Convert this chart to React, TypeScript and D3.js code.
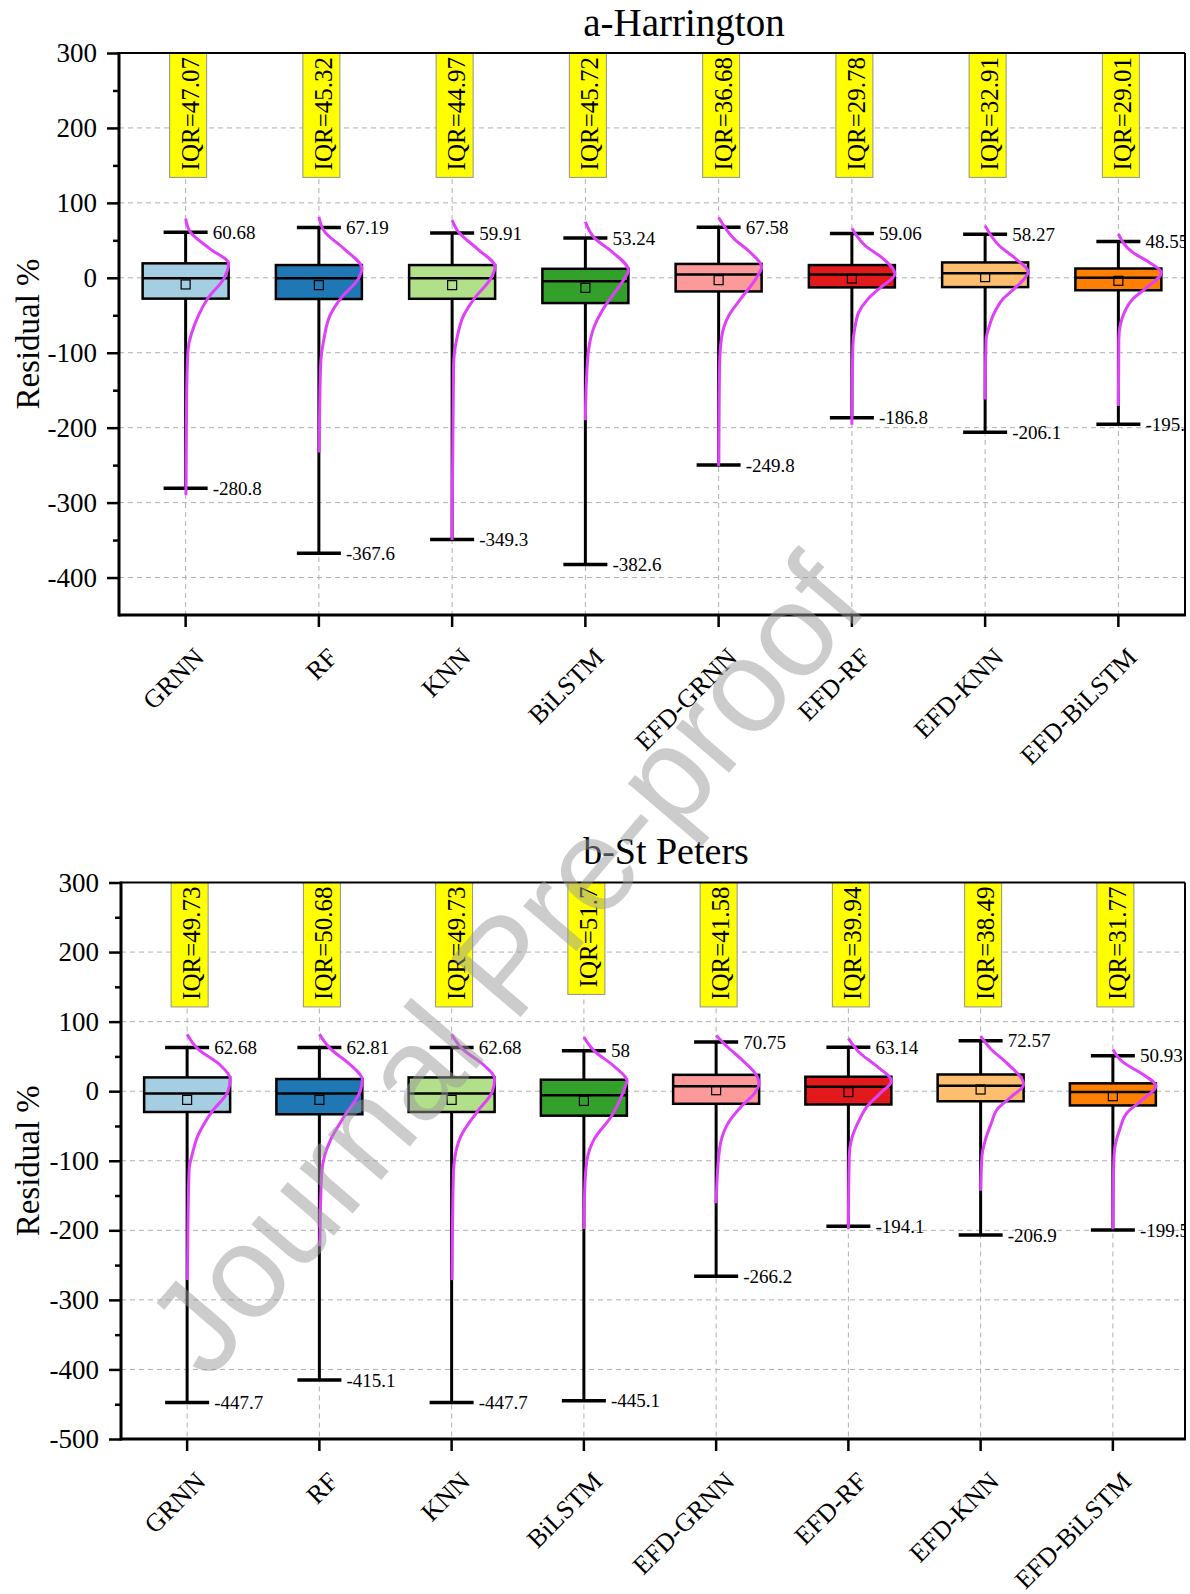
import React, { useEffect, useRef } from 'react'
import * as d3 from 'd3'

// categories and box colours
const models = ['GRNN', 'RF', 'KNN', 'BiLSTM', 'EFD-GRNN', 'EFD-RF', 'EFD-KNN', 'EFD-BiLSTM']
const boxColors = ['#a6cee3', '#1f78b4', '#b2df8a', '#33a02c', '#fb9a99', '#e31a1c', '#fdbf6f', '#ff7f00']

// a-Harrington
const harTicks = [-400, -300, -200, -100, 0, 100, 200, 300]
const harQ1 = [-27.8, -28.3, -28.0, -33.7, -18.2, -12.8, -12.4, -16.6]
const harMedian = [-0.5, -0.5, -0.5, -4.5, 4.4, 4.4, 6.2, 0]
const harQ3 = [19.3, 17.0, 17.0, 12.0, 18.5, 17.0, 20.5, 12.4]
const harMean = [-8.9, -9.8, -9.8, -13.4, -3.1, -0.9, 0.9, -4.0]
const harMax = [60.68, 67.19, 59.91, 53.24, 67.58, 59.06, 58.27, 48.55]
const harMin = [-280.8, -367.6, -349.3, -382.6, -249.8, -186.8, -206.1, -195.6]
const harIQR = ['47.07', '45.32', '44.97', '45.72', '36.68', '29.78', '32.91', '29.01']
// distribution curves: [residual, relative density]
const harDensity: [number, number][][] = [
  [[79, 0], [61, 0.11], [39, 0.56], [19, 1], [0, 0.9], [-28, 0.51], [-50, 0.3], [-72, 0.15], [-90, 0.07], [-108, 0.045], [-161, 0.023], [-290, 0.007]],
  [[81.5, 0], [61, 0.14], [39, 0.58], [12.5, 1], [0, 0.93], [-28, 0.5], [-50, 0.26], [-81, 0.12], [-117, 0.04], [-233, 0.007]],
  [[77, 0], [61, 0.15], [39, 0.58], [14.7, 1], [0, 0.91], [-28, 0.51], [-50, 0.27], [-81, 0.11], [-117, 0.033], [-350, 0]],
  [[74.8, 0], [52.6, 0.22], [34.7, 0.62], [10, 1], [-5.3, 0.86], [-36.5, 0.47], [-63, 0.22], [-94, 0.08], [-139, 0.023], [-190, 0]],
  [[80.4, 0], [52, 0.36], [34.7, 0.72], [14.7, 1], [0, 0.88], [-27.6, 0.52], [-50, 0.24], [-81, 0.065], [-116, 0.023], [-251, 0]],
  [[66, 0], [42.8, 0.31], [25, 0.74], [5, 1], [-13.8, 0.65], [-28.6, 0.37], [-46, 0.16], [-64, 0.077], [-91, 0.023], [-196, 0]],
  [[69.6, 0], [42.8, 0.33], [25, 0.72], [8, 1], [-13.8, 0.69], [-28.6, 0.41], [-46, 0.22], [-64, 0.1], [-82, 0.023], [-162.5, 0]],
  [[58.5, 0], [34, 0.33], [20.5, 0.72], [7, 1], [-13.8, 0.64], [-28.6, 0.33], [-46, 0.14], [-64, 0.04], [-82, 0.01], [-171, 0]],
]

// b-St Peters
const stpTicks = [-500, -400, -300, -200, -100, 0, 100, 200, 300]
const stpQ1 = [-29.9, -33.2, -29.9, -35.2, -18.1, -19.1, -14.5, -20.5]
const stpMedian = [-3.4, -3.4, -3.4, -5.7, 7.2, 6.3, 7.7, -1.0]
const stpQ3 = [19.8, 17.5, 19.8, 16.5, 23.5, 20.8, 24.0, 11.3]
const stpMean = [-12.5, -12.5, -12.5, -14.0, 1.4, -1.4, 2.4, -7.2]
const stpMax = [62.68, 62.81, 62.68, 58, 70.75, 63.14, 72.57, 50.93]
const stpMin = [-447.7, -415.1, -447.7, -445.1, -266.2, -194.1, -206.9, -199.5]
const stpIQR = ['49.73', '50.68', '49.73', '51.7', '41.58', '39.94', '38.49', '31.77']
const stpDensity: [number, number][][] = [
  [[82, 0], [60.8, 0.25], [38, 0.76], [18, 1], [0, 0.95], [-30, 0.57], [-64, 0.25], [-93, 0.11], [-110, 0.05], [-150, 0.03], [-271.6, 0.01]],
  [[82, 0], [60.8, 0.26], [38, 0.72], [16.5, 1], [0, 0.95], [-36, 0.58], [-70, 0.26], [-93, 0.12], [-121, 0.05], [-223, 0.01]],
  [[82, 0], [60.8, 0.25], [38, 0.74], [18, 1], [0, 0.95], [-30, 0.59], [-64, 0.22], [-93, 0.08], [-121, 0.04], [-271.6, 0.01]],
  [[78, 0], [58, 0.24], [36, 0.7], [15, 1], [0, 0.92], [-36, 0.64], [-70, 0.23], [-93, 0.09], [-127, 0.03], [-198, 0]],
  [[80.3, 0], [65, 0.24], [45.7, 0.59], [26.4, 0.9], [12, 1], [-2.4, 0.9], [-21.6, 0.59], [-45.7, 0.28], [-70, 0.12], [-94, 0.06], [-118, 0.03], [-161, 0]],
  [[76, 0], [55.3, 0.26], [36, 0.66], [14.4, 1], [-2.4, 0.75], [-21.6, 0.44], [-45.7, 0.22], [-70, 0.07], [-94, 0.02], [-198.6, 0]],
  [[79.3, 0], [60, 0.25], [41, 0.6], [9.6, 1], [-7.2, 0.73], [-26.4, 0.38], [-45.7, 0.25], [-70, 0.11], [-94, 0.03], [-143, 0]],
  [[60, 0], [41, 0.25], [26.4, 0.64], [7.2, 1], [-12, 0.69], [-31, 0.33], [-55, 0.16], [-79, 0.05], [-103, 0.02], [-198.6, 0]],
]

interface PanelSpec {
  id: string
  title: string
  titleX: number
  titleY: number
  titleSize: number
  left: number
  right: number
  bandRight: number
  top: number
  bottom: number
  yMin: number
  ticks: number[]
  q1: number[]
  median: number[]
  q3: number[]
  mean: number[]
  max: number[]
  min: number[]
  iqr: string[]
  density: [number, number][][]
}

const serif = '"Liberation Serif", "Times New Roman", serif'

function drawPanel(svg: d3.Selection<SVGSVGElement, unknown, null, undefined>, p: PanelSpec) {
  const x = d3.scaleBand<string>().domain(models).range([p.left, p.bandRight]).padding(0)
  const y = d3.scaleLinear().domain([p.yMin, 300]).range([p.bottom, p.top])
  const cx = (i: number) => (x(models[i]) ?? 0) + x.bandwidth() / 2
  const halfBox = 43
  const capHalf = 22

  const g = svg.append('g')

  const clipId = `clip-${p.id}`
  svg.append('defs').append('clipPath').attr('id', clipId)
    .append('rect')
    .attr('x', p.left).attr('y', p.top)
    .attr('width', p.right - p.left).attr('height', p.bottom - p.top)

  // grid
  g.append('g').selectAll('line').data(p.ticks).join('line')
    .attr('x1', p.left).attr('x2', p.right)
    .attr('y1', d => y(d)).attr('y2', d => y(d))
    .attr('stroke', '#b0b0b0').attr('stroke-width', 1).attr('stroke-dasharray', '5,4')
  g.append('g').selectAll('line').data(models).join('line')
    .attr('x1', (_, i) => cx(i)).attr('x2', (_, i) => cx(i))
    .attr('y1', p.top).attr('y2', p.bottom)
    .attr('stroke', '#b0b0b0').attr('stroke-width', 1).attr('stroke-dasharray', '5,4')

  // IQR labels
  const iqrRects = g.append('g').selectAll('rect').data(p.iqr).join('rect')
    .attr('x', (_, i) => cx(i) - 16).attr('y', p.top)
    .attr('width', 37).attr('height', 120)
    .attr('fill', '#ffff00').attr('stroke', '#909090').attr('stroke-width', 1)
  const iqrTexts = g.append('g').selectAll('text').data(p.iqr).join('text')
    .attr('transform', (_, i) => `translate(${cx(i) + 13},${p.top + 4}) rotate(-90)`)
    .attr('text-anchor', 'end')
    .style('font-family', serif).style('font-size', '25px').attr('fill', '#000')
    .text(d => `IQR=${d}`)
  iqrTexts.each(function (_, i) {
    const len = (this as SVGTextElement).getComputedTextLength()
    d3.select(iqrRects.nodes()[i]).attr('height', len + 11)
  })

  // whiskers
  const wg = g.append('g').attr('stroke', '#000')
  models.forEach((_, i) => {
    const c = cx(i)
    wg.append('line').attr('x1', c).attr('x2', c).attr('y1', y(p.q3[i])).attr('y2', y(p.max[i])).attr('stroke-width', 3)
    wg.append('line').attr('x1', c).attr('x2', c).attr('y1', y(p.q1[i])).attr('y2', y(p.min[i])).attr('stroke-width', 3)
    wg.append('line').attr('x1', c - capHalf).attr('x2', c + capHalf).attr('y1', y(p.max[i])).attr('y2', y(p.max[i])).attr('stroke-width', 3.5)
    wg.append('line').attr('x1', c - capHalf).attr('x2', c + capHalf).attr('y1', y(p.min[i])).attr('y2', y(p.min[i])).attr('stroke-width', 3.5)
  })

  // boxes
  g.append('g').selectAll('rect').data(models).join('rect')
    .attr('x', (_, i) => cx(i) - halfBox).attr('width', halfBox * 2)
    .attr('y', (_, i) => y(p.q3[i])).attr('height', (_, i) => y(p.q1[i]) - y(p.q3[i]))
    .attr('fill', (_, i) => boxColors[i]).attr('stroke', '#000').attr('stroke-width', 2.5)
  g.append('g').selectAll('line').data(p.median).join('line')
    .attr('x1', (_, i) => cx(i) - halfBox).attr('x2', (_, i) => cx(i) + halfBox)
    .attr('y1', d => y(d)).attr('y2', d => y(d))
    .attr('stroke', '#000').attr('stroke-width', 2.5)
  g.append('g').selectAll('rect').data(p.mean).join('rect')
    .attr('x', (_, i) => cx(i) - 4.5).attr('y', d => y(d) - 4.5)
    .attr('width', 9).attr('height', 9)
    .attr('fill', 'none').attr('stroke', '#000').attr('stroke-width', 1.2)

  // distribution curves
  p.density.forEach((pts, i) => {
    const line = d3.line<[number, number]>()
      .x(d => cx(i) + d[1] * halfBox)
      .y(d => y(d[0]))
      .curve(d3.curveMonotoneY)
    g.append('path').attr('d', line(pts) ?? '')
      .attr('fill', 'none').attr('stroke', '#e040fb').attr('stroke-width', 3)
  })

  // max / min labels
  const lg = g.append('g').attr('clip-path', `url(#${clipId})`)
    .style('font-family', serif).style('font-size', '19px')
  models.forEach((_, i) => {
    lg.append('text').attr('x', cx(i) + 27).attr('y', y(p.max[i])).attr('dy', '0.35em').text(String(p.max[i]))
    lg.append('text').attr('x', cx(i) + 27).attr('y', y(p.min[i])).attr('dy', '0.35em').text(String(p.min[i]))
  })

  // axes
  const yAxis = g.append('g').attr('transform', `translate(${p.left},0)`)
    .call(d3.axisLeft(y).tickValues(p.ticks).tickSize(12).tickPadding(10).tickFormat(d => String(d)))
  yAxis.select('.domain').remove()
  yAxis.selectAll('line').attr('stroke-width', 2.5)
  yAxis.selectAll('text').style('font-family', serif).style('font-size', '27px').attr('fill', '#000')

  const minorTicks = p.ticks.slice(1).map(v => v - 50)
  const yMinor = g.append('g').attr('transform', `translate(${p.left},0)`)
    .call(d3.axisLeft(y).tickValues(minorTicks).tickSize(6).tickFormat(() => ''))
  yMinor.select('.domain').remove()
  yMinor.selectAll('line').attr('stroke-width', 2.5)

  const xAxis = g.append('g').attr('transform', `translate(0,${p.bottom})`)
    .call(d3.axisBottom(x).tickSize(12).tickFormat(() => ''))
  xAxis.select('.domain').remove()
  xAxis.selectAll('line').attr('stroke-width', 2.5)

  g.append('g').selectAll('text').data(models).join('text')
    .attr('transform', (_, i) => `translate(${cx(i) + 20},${p.bottom + 44}) rotate(-45)`)
    .attr('text-anchor', 'end')
    .style('font-family', serif).style('font-size', '26px')
    .text(d => d)

  // frame
  const fg = g.append('g').attr('stroke', '#000').attr('fill', 'none')
  fg.append('line').attr('x1', p.left).attr('x2', p.right).attr('y1', p.top).attr('y2', p.top).attr('stroke-width', 2)
  fg.append('line').attr('x1', p.right).attr('x2', p.right).attr('y1', p.top).attr('y2', p.bottom).attr('stroke-width', 2)
  fg.append('line').attr('x1', p.left).attr('x2', p.right + 1).attr('y1', p.bottom).attr('y2', p.bottom).attr('stroke-width', 3)
  fg.append('line').attr('x1', p.left).attr('x2', p.left).attr('y1', p.top - 1).attr('y2', p.bottom + 1.5).attr('stroke-width', 3)

  // titles
  g.append('text').attr('x', p.titleX).attr('y', p.titleY).attr('text-anchor', 'middle')
    .style('font-family', serif).style('font-size', `${p.titleSize}px`).text(p.title)
  g.append('text')
    .attr('transform', `translate(39,${(p.top + p.bottom) / 2}) rotate(-90)`)
    .attr('text-anchor', 'middle')
    .style('font-family', serif).style('font-size', '33px').text('Residual %')
}

export default function App() {
  const svgRef = useRef<SVGSVGElement>(null)

  useEffect(() => {
    if (!svgRef.current) return
    const svg = d3.select(svgRef.current)
    svg.selectAll('*').remove()

    drawPanel(svg, {
      id: 'har', title: 'a-Harrington', titleX: 684, titleY: 36, titleSize: 39,
      left: 119, right: 1185, bandRight: 1185, top: 53, bottom: 615, yMin: -450,
      ticks: harTicks, q1: harQ1, median: harMedian, q3: harQ3, mean: harMean,
      max: harMax, min: harMin, iqr: harIQR, density: harDensity,
    })
    drawPanel(svg, {
      id: 'stp', title: 'b-St Peters', titleX: 666, titleY: 864, titleSize: 38,
      left: 121, right: 1185, bandRight: 1179, top: 882.5, bottom: 1439, yMin: -500,
      ticks: stpTicks, q1: stpQ1, median: stpMedian, q3: stpQ3, mean: stpMean,
      max: stpMax, min: stpMin, iqr: stpIQR, density: stpDensity,
    })

    // watermark
    svg.append('text')
      .attr('transform', 'translate(505,965) rotate(-49.5)')
      .attr('text-anchor', 'middle').attr('dominant-baseline', 'central')
      .style('font-family', '"Liberation Sans", Arial, sans-serif').style('font-size', '132px')
      .attr('fill', '#9a9a9a').attr('opacity', 0.5)
      .text('Journal Pre-proof')
  }, [])

  return (
    <>
      <style>{'body{margin:0}'}</style>
      <svg ref={svgRef} width={1190} height={1594} style={{ display: 'block', background: '#fff' }} />
    </>
  )
}
